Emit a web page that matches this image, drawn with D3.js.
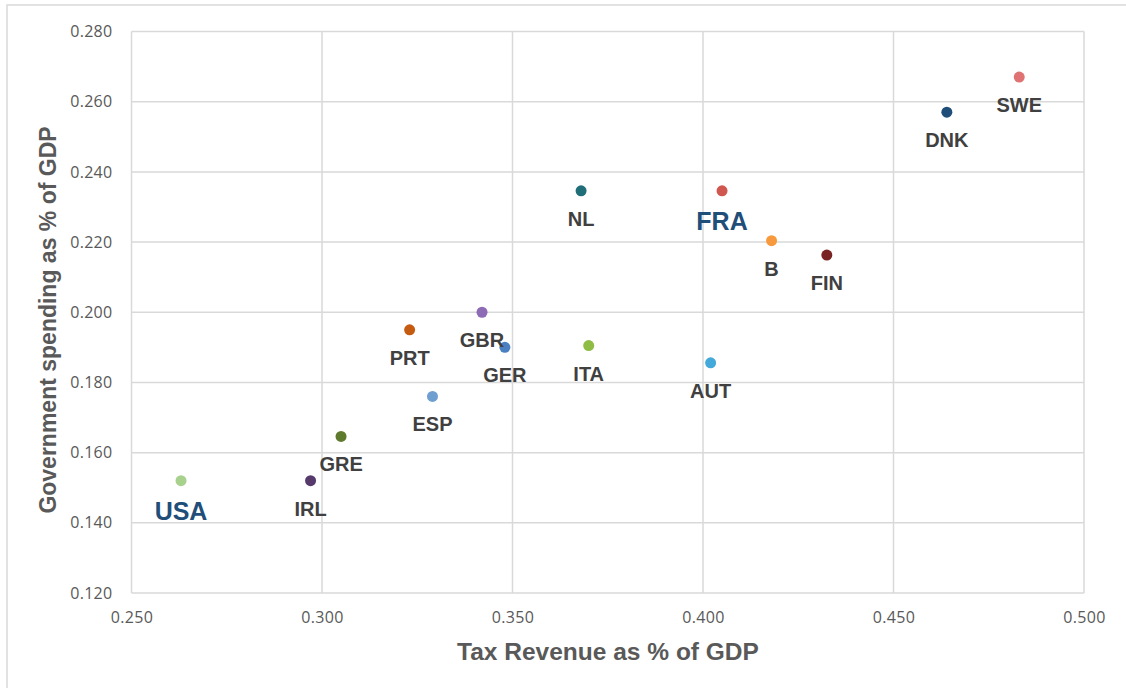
<!DOCTYPE html>
<html><head><meta charset="utf-8">
<script src="https://cdn.jsdelivr.net/npm/d3@7"></script>
<style>body{margin:0;background:#fff;} svg{display:block;}</style>
</head><body>
<script>
const countries = ["USA","IRL","GRE","PRT","GBR","GER","ESP","ITA","AUT","NL","FRA","B","FIN","DNK","SWE"];
const taxRevenue = [0.263,0.297,0.305,0.323,0.342,0.348,0.329,0.370,0.402,0.368,0.405,0.418,0.4325,0.464,0.483];
const govSpending = [0.152,0.152,0.1646,0.195,0.200,0.190,0.176,0.1905,0.1856,0.2346,0.2346,0.2204,0.2163,0.257,0.267];
const dotColors = ["#a9d18e","#553a6b","#5e7a2d","#c55a11","#8e6bb5","#4a7fc1","#6f9fd0","#8fbc45","#42a9da","#1f6e78","#d0574f","#f79a3e","#7a2323","#1f4e79","#df7373"];
const highlighted = ["USA","FRA"];
const xTicks = [0.25,0.30,0.35,0.40,0.45,0.50];
const yTicks = [0.12,0.14,0.16,0.18,0.20,0.22,0.24,0.26,0.28];
const xTitle = "Tax Revenue as % of GDP";
const yTitle = "Government spending as % of GDP";

const W = 1126, H = 688;
const m = {left:131.5, right:1084, top:31.5, bottom:593};
const svg = d3.select("body").append("svg").attr("width",W).attr("height",H);

// outer frame
svg.append("rect").attr("x",7).attr("y",5).attr("width",W+20).attr("height",H+20)
  .attr("fill","none").attr("stroke","#d9d9d9").attr("stroke-width",1.5);

const x = d3.scaleLinear().domain([0.25,0.50]).range([m.left,m.right]);
const y = d3.scaleLinear().domain([0.12,0.28]).range([m.bottom,m.top]);

// gridlines
svg.append("g").selectAll("line").data(xTicks).join("line")
  .attr("x1",d=>x(d)).attr("x2",d=>x(d)).attr("y1",m.top).attr("y2",m.bottom)
  .attr("stroke","#d9d9d9").attr("stroke-width",1.5);
svg.append("g").selectAll("line").data(yTicks).join("line")
  .attr("y1",d=>y(d)).attr("y2",d=>y(d)).attr("x1",m.left).attr("x2",m.right)
  .attr("stroke","#d9d9d9").attr("stroke-width",1.5);

// axes (labels only)
const xAxis = svg.append("g").attr("transform",`translate(0,${m.bottom})`)
  .call(d3.axisBottom(x).tickValues(xTicks).tickFormat(d3.format(".3f")).tickSize(0).tickPadding(19));
const yAxis = svg.append("g").attr("transform",`translate(${m.left},0)`)
  .call(d3.axisLeft(y).tickValues(yTicks).tickFormat(d3.format(".3f")).tickSize(0).tickPadding(19));
[xAxis,yAxis].forEach(a=>{
  a.select(".domain").remove();
  a.selectAll("text").attr("fill","#595959").style("font-family","'Open Sans', sans-serif")
    .style("font-size","16px").style("letter-spacing","0.3px");
});

// axis titles
svg.append("text").attr("x",608).attr("y",660).attr("text-anchor","middle")
  .attr("fill","#595959").style("font-family","'Liberation Sans', Arial, sans-serif")
  .style("font-size","24.5px").style("font-weight","bold").text(xTitle);
svg.append("text").attr("transform","translate(56,320) rotate(-90)").attr("text-anchor","middle")
  .attr("fill","#595959").style("font-family","'Liberation Sans', Arial, sans-serif")
  .style("font-size","23px").style("font-weight","bold").text(yTitle);

const data = countries.map((c,i)=>({c, tx:taxRevenue[i], gs:govSpending[i], col:dotColors[i], hi:highlighted.includes(c)}));

// points
svg.append("g").selectAll("circle").data(data).join("circle")
  .attr("cx",d=>x(d.tx)).attr("cy",d=>y(d.gs)).attr("r",5.5).attr("fill",d=>d.col);

// labels
svg.append("g").selectAll("text").data(data).join("text")
  .attr("x",d=>x(d.tx)).attr("y",d=>y(d.gs)+(d.hi?39:35))
  .attr("text-anchor","middle")
  .attr("fill",d=>d.hi?"#1f4e79":"#404040")
  .style("font-family","'Liberation Sans', Arial, sans-serif")
  .style("font-weight","bold")
  .style("font-size",d=>d.hi?"25px":"20px")
  .text(d=>d.c);
</script>
</body></html>
